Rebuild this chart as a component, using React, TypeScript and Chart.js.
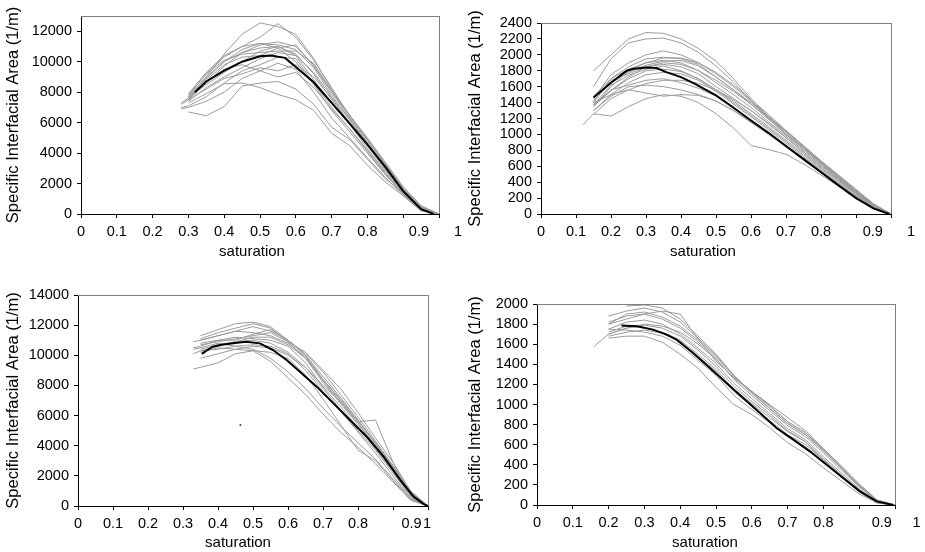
import React, { useEffect, useRef } from 'react';
import { Chart, registerables } from 'chart.js';

Chart.register(...registerables);

// ---------- shared text / ticks ----------
const X_TITLE = 'saturation';
const Y_TITLE = 'Specific Interfacial Area (1/m)';
const X_MARKS = [0, 0.1, 0.2, 0.3, 0.4, 0.5, 0.6, 0.7, 0.8, 0.9, 1.0];
const X_MARK_LABELS = ['0', '0.1', '0.2', '0.3', '0.4', '0.5', '0.6', '0.7', '0.8', '', ''];
const X_END_LABELS = ['0.9', '1'];

// ---------- panel 1 (top left) ----------
const P1_Y_TICKS = [0, 2000, 4000, 6000, 8000, 10000, 12000];
const P1_X = [0.28, 0.3, 0.35, 0.4, 0.45, 0.5, 0.55, 0.6, 0.65, 0.7, 0.75, 0.8, 0.85, 0.9, 0.95, 1.0];
const P1_RUNS: (number | null)[][] = [
  [null, 7700, 9000, 10500, 11800, 12550, 12300, 11800, 10200, 8200, 6500, 4900, 3300, 1700, 450, 0],
  [null, 7800, 9200, 10300, 11000, 11600, 12500, 11600, 10100, 8300, 6400, 4800, 3200, 1600, 400, 0],
  [7200, 7500, 8600, 9700, 10600, 11100, 11300, 11000, 9800, 8000, 6300, 4700, 3100, 1600, 400, 0],
  [null, 7600, 8900, 10000, 10800, 11200, 11100, 10800, 9600, 7800, 6200, 4600, 3000, 1500, 350, 0],
  [null, 7700, 9000, 10000, 10600, 10900, 11000, 10500, 9200, 7500, 6000, 4500, 2900, 1400, 300, 0],
  [7300, 7600, 8500, 9300, 10000, 10700, 11000, 10400, 8800, 7300, 5900, 4300, 2800, 1400, 300, 0],
  [null, 7900, 9300, 10400, 11000, 11200, 10900, 10000, 8500, 6800, 5400, 4000, 2600, 1300, 250, 0],
  [null, 7400, 8300, 9000, 9600, 10200, 10600, 10400, 9300, 7700, 6200, 4600, 3000, 1500, 350, 0],
  [7000, 7100, 7700, 8600, 9400, 9800, 10300, 10200, 8600, 7000, 5600, 4100, 2600, 1300, 300, 0],
  [null, 6700, 6450, 7050, 8400, 8600, 8700, 8200, 7200, 5700, 4900, 3600, 2300, 1400, 300, 0],
  [null, 7300, 7900, 8550, 8600, 8300, 7850, 7500, 6800, 5300, 4500, 3200, 2100, 1200, 250, 0],
  [null, 7500, 8200, 8900, 9200, 9600, 9400, 9800, 9000, 7600, 6000, 4500, 3000, 1600, 400, 0],
  [6900, 7000, 7400, 8000, 8900, 9400, 9900, 9500, 8000, 6300, 5000, 3700, 2400, 1200, 200, 0],
  [null, 7800, 9200, 10100, 10500, 10600, 10700, 10700, 9900, 8100, 6500, 4900, 3300, 1700, 500, 0],
  [null, 7600, 8700, 9500, 9800, 9400, 9000, 9300, 8300, 6900, 5600, 4200, 2700, 1300, 300, 0],
  [null, 7500, 8800, 9800, 10300, 10400, 10900, 11100, 9700, 8000, 6500, 5000, 3400, 1800, 550, 0],
];
const P1_MEAN_X = [0.318, 0.35, 0.4, 0.45, 0.5, 0.53, 0.57, 0.6, 0.65, 0.7, 0.75, 0.8, 0.85, 0.9, 0.95, 0.985];
const P1_MEAN_Y = [8000, 8700, 9420, 10000, 10350, 10400, 10250, 9650, 8650, 7300, 5950, 4550, 3100, 1500, 320, 0];

// ---------- panel 2 (top right) ----------
const P2_Y_TICKS = [0, 200, 400, 600, 800, 1000, 1200, 1400, 1600, 1800, 2000, 2200, 2400];
const P2_X = [0.12, 0.15, 0.2, 0.25, 0.3, 0.35, 0.4, 0.45, 0.5, 0.55, 0.6, 0.65, 0.7, 0.75, 0.8, 0.85, 0.9, 0.95, 1.0];
const P2_RUNS: (number | null)[][] = [
  [null, 1800, 2000, 2200, 2280, 2270, 2200, 2080, 1920, 1700, 1450, 1220, 1010, 830, 640, 460, 280, 110, 0],
  [null, 1600, 1950, 2150, 2200, 2210, 2150, 2030, 1860, 1660, 1420, 1200, 1000, 820, 630, 450, 270, 100, 0],
  [null, 1450, 1750, 1900, 2000, 2050, 2000, 1900, 1760, 1600, 1420, 1230, 1040, 850, 660, 480, 300, 120, 0],
  [null, 1400, 1700, 1850, 1950, 1970, 1950, 1880, 1720, 1560, 1380, 1190, 1000, 820, 640, 460, 280, 110, 0],
  [null, 1350, 1600, 1800, 1900, 1930, 1900, 1800, 1650, 1500, 1340, 1160, 980, 800, 620, 440, 270, 100, 0],
  [null, 1420, 1680, 1760, 1850, 1880, 1850, 1760, 1600, 1450, 1300, 1130, 960, 780, 600, 430, 260, 90, 0],
  [null, 1380, 1550, 1700, 1800, 1820, 1790, 1700, 1560, 1420, 1260, 1100, 930, 760, 580, 410, 250, 80, 0],
  [null, 1300, 1500, 1650, 1750, 1780, 1760, 1680, 1540, 1380, 1220, 1060, 890, 720, 550, 390, 230, 70, 0],
  [null, 1360, 1560, 1620, 1680, 1700, 1650, 1580, 1480, 1340, 1180, 1020, 860, 700, 540, 380, 220, 70, 0],
  [null, 1400, 1500, 1560, 1520, 1480, 1500, 1490, 1420, 1300, 1150, 1000, 840, 680, 520, 360, 210, 60, 0],
  [1120, 1260, 1230, 1350, 1450, 1500, 1480, 1400, 1260, 1080, 860, 810, 750, 630, 490, 350, 210, 70, 0],
  [null, 1350, 1550, 1720, 1850, 1900, 1880, 1800, 1680, 1540, 1380, 1210, 1030, 840, 650, 470, 290, 110, 0],
  [null, 1480, 1700, 1820, 1900, 1960, 1960, 1900, 1780, 1620, 1440, 1250, 1050, 860, 670, 490, 310, 130, 0],
  [null, 1300, 1480, 1600, 1620, 1600, 1560, 1500, 1420, 1300, 1160, 1010, 850, 700, 540, 380, 230, 80, 0],
  [null, 1420, 1650, 1780, 1870, 1920, 1930, 1860, 1720, 1560, 1400, 1220, 1040, 850, 660, 480, 300, 120, 0],
  [null, 1370, 1620, 1740, 1820, 1860, 1800, 1700, 1560, 1400, 1240, 1080, 910, 740, 570, 410, 250, 90, 0],
  [null, 1250, 1450, 1560, 1640, 1680, 1680, 1640, 1560, 1440, 1300, 1140, 960, 780, 600, 430, 260, 100, 0],
];
const P2_MEAN_X = [0.15, 0.2, 0.245, 0.265, 0.3, 0.33, 0.36, 0.4, 0.44, 0.5, 0.55, 0.6, 0.65, 0.7, 0.75, 0.8, 0.85, 0.9, 0.95, 0.995];
const P2_MEAN_Y = [1465, 1650, 1800, 1825, 1840, 1835, 1780, 1720, 1635, 1490, 1335, 1175, 1020, 855, 690, 525, 360, 200, 70, 0];

// ---------- panel 3 (bottom left) ----------
const P3_Y_TICKS = [0, 2000, 4000, 6000, 8000, 10000, 12000, 14000];
const P3_X = [0.33, 0.35, 0.4, 0.45, 0.5, 0.55, 0.6, 0.65, 0.7, 0.75, 0.8, 0.85, 0.9, 0.95, 1.0];
const P3_RUNS: (number | null)[][] = [
  [null, 11300, 11700, 12100, 12200, 11900, 11000, 10000, 8400, 7000, 5600, 4200, 2600, 900, 0],
  [null, 11100, 11500, 11800, 12100, 11800, 10900, 9800, 8200, 6800, 5400, 4000, 2500, 800, 0],
  [10900, 11000, 11300, 11600, 11500, 11300, 10800, 9900, 8300, 6900, 5500, 4000, 2400, 700, 0],
  [10500, 10600, 11000, 11200, 11100, 11000, 10600, 9500, 7900, 6600, 5200, 3800, 2300, 700, 0],
  [null, 10800, 11000, 11000, 11400, 11700, 11000, 10100, 8900, 7400, 5900, 4300, 2700, 1000, 0],
  [null, 10400, 10700, 10900, 11000, 10800, 10200, 9200, 7800, 6400, 5000, 3700, 2200, 600, 0],
  [10400, 10500, 10800, 10600, 10400, 9800, 8900, 7800, 6500, 5300, 4200, 3100, 1800, 500, 0],
  [null, 10200, 10500, 10400, 10300, 9600, 8500, 7400, 6100, 4900, 3900, 2800, 1600, 400, 0],
  [9100, 9200, 9500, 10100, 10300, 10200, 9800, 8700, 7100, 5400, 3700, 3000, 1700, 400, 0],
  [null, 10700, 10900, 11100, 11300, 11500, 10900, 10200, 9000, 7800, 6200, 4500, 2900, 1000, 0],
  [null, 9800, 10100, 10400, 10600, 10500, 10000, 9200, 8000, 6900, 5600, 5700, 2900, 700, 0],
  [null, 10300, 10600, 10900, 11200, 11200, 10700, 9800, 8400, 7100, 5700, 4200, 2600, 800, 0],
  [10100, 10300, 10400, 10600, 10700, 10600, 10100, 9000, 7600, 6300, 4900, 3500, 2000, 500, 0],
  [null, 11000, 11300, 11600, 11900, 11600, 11000, 10000, 8600, 7200, 5700, 4100, 2500, 800, 0],
];
const P3_MEAN_X = [0.354, 0.37, 0.385, 0.41, 0.443, 0.48, 0.52, 0.557, 0.596, 0.634, 0.682, 0.73, 0.777, 0.825, 0.873, 0.921, 0.959, 0.988, 1.0];
const P3_MEAN_Y = [10090, 10350, 10570, 10700, 10800, 10900, 10790, 10350, 9690, 8910, 7920, 6810, 5710, 4600, 3270, 1720, 620, 130, 0];
const P3_STRAY_X = [0.464];
const P3_STRAY_Y = [5375];

// ---------- panel 4 (bottom right) ----------
const P4_Y_TICKS = [0, 200, 400, 600, 800, 1000, 1200, 1400, 1600, 1800, 2000];
const P4_X = [0.16, 0.2, 0.25, 0.3, 0.35, 0.4, 0.45, 0.5, 0.55, 0.6, 0.65, 0.7, 0.75, 0.8, 0.85, 0.9, 0.95, 1.0];
const P4_RUNS: (number | null)[][] = [
  [null, null, 1980, 1990, 1960, 1850, 1680, 1500, 1290, 1120, 960, 810, 700, 540, 370, 190, 40, 0],
  [null, 1880, 1930, 1960, 1920, 1820, 1660, 1490, 1280, 1110, 960, 810, 700, 540, 370, 190, 40, 0],
  [null, 1800, 1850, 1900, 1930, 1900, 1650, 1430, 1270, 1130, 990, 830, 720, 560, 390, 210, 50, 0],
  [null, 1820, 1880, 1900, 1850, 1760, 1620, 1460, 1250, 1090, 940, 790, 680, 520, 350, 180, 40, 0],
  [null, 1750, 1820, 1840, 1800, 1700, 1560, 1410, 1210, 1060, 910, 760, 650, 480, 320, 160, 30, 0],
  [1580, 1700, 1760, 1790, 1760, 1680, 1540, 1380, 1180, 1030, 890, 740, 630, 460, 300, 150, 30, 0],
  [null, 1680, 1720, 1740, 1710, 1620, 1480, 1330, 1130, 980, 840, 700, 600, 450, 290, 140, 30, 0],
  [null, 1750, 1740, 1720, 1680, 1590, 1440, 1290, 1090, 950, 820, 680, 580, 430, 280, 130, 20, 0],
  [null, 1660, 1680, 1680, 1620, 1500, 1360, 1170, 1000, 900, 770, 620, 510, 370, 240, 110, 20, 0],
  [null, 1700, 1760, 1800, 1780, 1720, 1600, 1450, 1260, 1130, 1000, 870, 740, 560, 380, 200, 50, 0],
  [null, 1800, 1900, 1920, 1870, 1780, 1640, 1480, 1280, 1130, 980, 830, 720, 550, 370, 190, 40, 0],
  [null, 1720, 1780, 1760, 1720, 1640, 1500, 1350, 1150, 1010, 870, 730, 630, 440, 290, 140, 30, 0],
];
const P4_MEAN_X = [0.236, 0.28, 0.324, 0.362, 0.39, 0.436, 0.483, 0.529, 0.576, 0.623, 0.669, 0.716, 0.762, 0.809, 0.855, 0.902, 0.949, 0.995];
const P4_MEAN_Y = [1785, 1778, 1745, 1695, 1645, 1512, 1363, 1214, 1065, 915, 766, 650, 534, 401, 269, 136, 36, 0];

// ---------- styling ----------
const FONT = 'Liberation Sans, Arial, Helvetica, sans-serif';
const GRAY = '#9b9b9b';
const TEXT = '#000000';

type PanelCfg = {
  left: number; top: number; w: number; h: number;
  padTop: number; padRight: number; yW: number; xH: number;
  yMax: number; yTicks: number[];
  xs: number[]; runs: (number | null)[][];
  meanX: number[]; meanY: number[];
  strayX?: number[]; strayY?: number[];
  endLabelAt: number[];
  titleAt: number[];
};

const PANELS: PanelCfg[] = [
  { left: 0, top: 0, w: 462, h: 276, padTop: 16, padRight: 23, yW: 81, xH: 62,
    yMax: 13000, yTicks: P1_Y_TICKS, xs: P1_X, runs: P1_RUNS, meanX: P1_MEAN_X, meanY: P1_MEAN_Y,
    endLabelAt: [0.944, 1.053], titleAt: [252, 252] },
  { left: 462, top: 0, w: 463, h: 276, padTop: 23, padRight: 34, yW: 79, xH: 62,
    yMax: 2400, yTicks: P2_Y_TICKS, xs: P2_X, runs: P2_RUNS, meanX: P2_MEAN_X, meanY: P2_MEAN_Y,
    endLabelAt: [0.948, 1.057], titleAt: [241, 252] },
  { left: 0, top: 276, w: 462, h: 276, padTop: 19, padRight: 34, yW: 78, xH: 46,
    yMax: 14000, yTicks: P3_Y_TICKS, xs: P3_X, runs: P3_RUNS, meanX: P3_MEAN_X, meanY: P3_MEAN_Y,
    strayX: P3_STRAY_X, strayY: P3_STRAY_Y,
    endLabelAt: [0.953, 0.997], titleAt: [238, 267] },
  { left: 462, top: 276, w: 463, h: 276, padTop: 28, padRight: 30, yW: 75, xH: 47,
    yMax: 2000, yTicks: P4_Y_TICKS, xs: P4_X, runs: P4_RUNS, meanX: P4_MEAN_X, meanY: P4_MEAN_Y,
    endLabelAt: [0.963, 1.06], titleAt: [243, 267] },
];

function PanelChart({ cfg }: { cfg: PanelCfg }) {
  const ref = useRef<HTMLCanvasElement | null>(null);

  useEffect(() => {
    if (!ref.current) return;

    const datasets: any[] = [];
    datasets.push({
      label: 'mean',
      data: cfg.meanX.map((x, i) => ({ x, y: cfg.meanY[i] })),
      borderColor: '#000000',
      borderWidth: 2,
      pointRadius: 0,
      tension: 0,
    });
    if (cfg.strayX && cfg.strayY) {
      datasets.push({
        label: 'mark',
        data: cfg.strayX.map((x, i) => ({ x, y: cfg.strayY![i] })),
        showLine: false,
        pointRadius: 1,
        pointBorderWidth: 0,
        pointBackgroundColor: '#444444',
      });
    }
    cfg.runs.forEach((run, k) => {
      const pts: { x: number; y: number }[] = [];
      cfg.xs.forEach((x, i) => {
        const v = run[i];
        if (v !== null && v !== undefined) pts.push({ x, y: v });
      });
      datasets.push({
        label: 'run ' + (k + 1),
        data: pts,
        borderColor: GRAY,
        borderWidth: 1,
        pointRadius: 0,
        tension: 0,
      });
    });

    const xLabels = [...X_MARK_LABELS, ...X_END_LABELS];

    const framePlugin = {
      id: 'frameAndTitle',
      afterDraw(chart: any) {
        const { ctx, chartArea } = chart;
        ctx.save();
        ctx.strokeStyle = '#808080';
        ctx.lineWidth = 1;
        ctx.beginPath();
        ctx.moveTo(chartArea.left, Math.round(chartArea.top) + 0.5);
        ctx.lineTo(chartArea.right, Math.round(chartArea.top) + 0.5);
        ctx.moveTo(Math.round(chartArea.right) + 0.5, chartArea.top);
        ctx.lineTo(Math.round(chartArea.right) + 0.5, chartArea.bottom);
        ctx.stroke();
        ctx.fillStyle = TEXT;
        ctx.font = '15px ' + FONT;
        ctx.textAlign = 'center';
        ctx.textBaseline = 'middle';
        ctx.fillText(X_TITLE, cfg.titleAt[0], cfg.titleAt[1]);
        ctx.restore();
      },
    };

    const chart = new Chart(ref.current, {
      type: 'line',
      data: { datasets },
      options: {
        animation: false,
        responsive: false,
        events: [],
        layout: { padding: { left: 0, top: cfg.padTop, right: cfg.padRight, bottom: 0 } },
        plugins: { legend: { display: false }, tooltip: { enabled: false } },
        scales: {
          x: {
            type: 'linear',
            min: 0,
            max: 1,
            afterBuildTicks: (scale: any) => {
              scale.ticks = [...X_MARKS, ...cfg.endLabelAt].map((v) => ({ value: v }));
            },
            afterFit: (scale: any) => {
              scale.height = cfg.xH;
              scale.paddingLeft = 0;
              scale.paddingRight = 0;
            },
            ticks: {
              autoSkip: false,
              maxRotation: 0,
              minRotation: 0,
              padding: 5,
              color: TEXT,
              font: { family: FONT, size: 14.5 },
              callback: (_v: any, i: number) => xLabels[i],
            },
            grid: {
              drawOnChartArea: false,
              drawTicks: true,
              tickLength: 4,
              tickColor: (ctx: any) => (ctx.index >= X_MARKS.length ? 'rgba(0,0,0,0)' : '#000000'),
            },
            border: { display: true, color: '#000000', width: 1 },
          },
          y: {
            type: 'linear',
            min: 0,
            max: cfg.yMax,
            afterBuildTicks: (scale: any) => {
              scale.ticks = cfg.yTicks.map((v) => ({ value: v }));
            },
            afterFit: (scale: any) => {
              scale.width = cfg.yW;
              scale.paddingTop = 0;
              scale.paddingBottom = 0;
            },
            ticks: {
              autoSkip: false,
              padding: 5,
              color: TEXT,
              font: { family: FONT, size: 14.5 },
              callback: (v: any) => String(v),
            },
            grid: {
              drawOnChartArea: false,
              drawTicks: true,
              tickLength: 4,
              tickColor: '#000000',
            },
            border: { display: true, color: '#000000', width: 1 },
            title: {
              display: true,
              text: Y_TITLE,
              color: TEXT,
              font: { family: FONT, size: 16.5 },
              padding: { top: 4, bottom: 0 },
            },
          },
        },
      } as any,
      plugins: [framePlugin],
    });

    return () => chart.destroy();
  }, [cfg]);

  return (
    <div style={{ position: 'absolute', left: cfg.left, top: cfg.top, width: cfg.w, height: cfg.h }}>
      <canvas ref={ref} width={cfg.w} height={cfg.h} style={{ display: 'block' }} />
    </div>
  );
}

export default function App() {
  return (
    <div style={{ position: 'absolute', left: 0, top: 0, width: 925, height: 552, background: '#ffffff', overflow: 'hidden' }}>
      {PANELS.map((p, i) => (
        <PanelChart key={i} cfg={p} />
      ))}
    </div>
  );
}
